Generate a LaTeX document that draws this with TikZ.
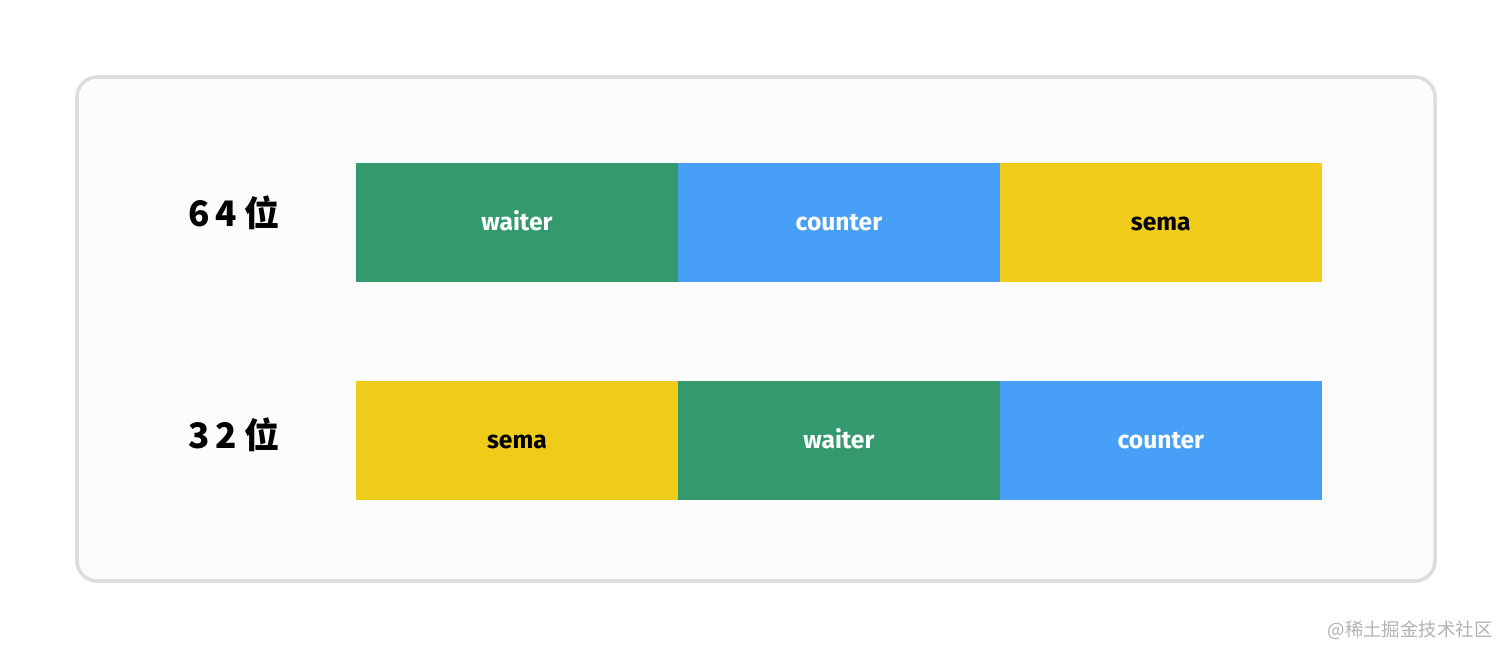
\documentclass[tikz,border=0pt]{standalone}
\usepackage{fontspec}
\setmainfont{Fira Sans}
\newfontfamily\cjk{Noto Sans CJK SC}
\usetikzlibrary{positioning}

\definecolor{boxgreen}{HTML}{34996D}
\definecolor{boxblue}{HTML}{489FF8}
\definecolor{boxyellow}{HTML}{F0CC1A}
\definecolor{framegray}{HTML}{DDDDDD}
\definecolor{framefill}{HTML}{FBFBFB}

\tikzset{
  field/.style={minimum width=6.44cm,minimum height=2.38cm,inner sep=0pt,outer sep=0pt,
    text height=2ex,text depth=0.25ex,
    font=\fontsize{14}{16}\selectfont\bfseries},
  waiterbox/.style={field,fill=boxgreen,text=white},
  counterbox/.style={field,fill=boxblue,text=white},
  semabox/.style={field,fill=boxyellow,text=black},
  bitlabel/.style={font=\cjk\fontsize{20}{22}\selectfont\bfseries,inner sep=0pt}
}

\begin{document}
\begin{tikzpicture}[x=0.02cm,y=-0.02cm]
 \useasboundingbox (0,0) rectangle (1512,659);
 \draw[framegray,line width=2pt,fill=framefill,rounded corners=0.4cm] (77,77) rectangle (1435,581);

 % 64 bit layout
 \node[bitlabel] (l64) at (234,213) {6\,4 位};
 \node[waiterbox,anchor=north west] (w64) at (356,163) {waiter};
 \node[counterbox,right=0pt of w64] (c64) {counter};
 \node[semabox,right=0pt of c64] (s64) {sema};

 % 32 bit layout
 \node[bitlabel] (l32) at (234,435) {3\,2 位};
 \node[semabox,anchor=north west] (s32) at (356,381) {sema};
 \node[waiterbox,right=0pt of s32] (w32) {waiter};
 \node[counterbox,right=0pt of w32] (c32) {counter};

 \node[font=\cjk\fontsize{10.5}{12}\selectfont,text=black!30,anchor=east,inner sep=0pt] (mark) at (1493,630) {@稀土掘金技术社区};
\end{tikzpicture}
\end{document}
